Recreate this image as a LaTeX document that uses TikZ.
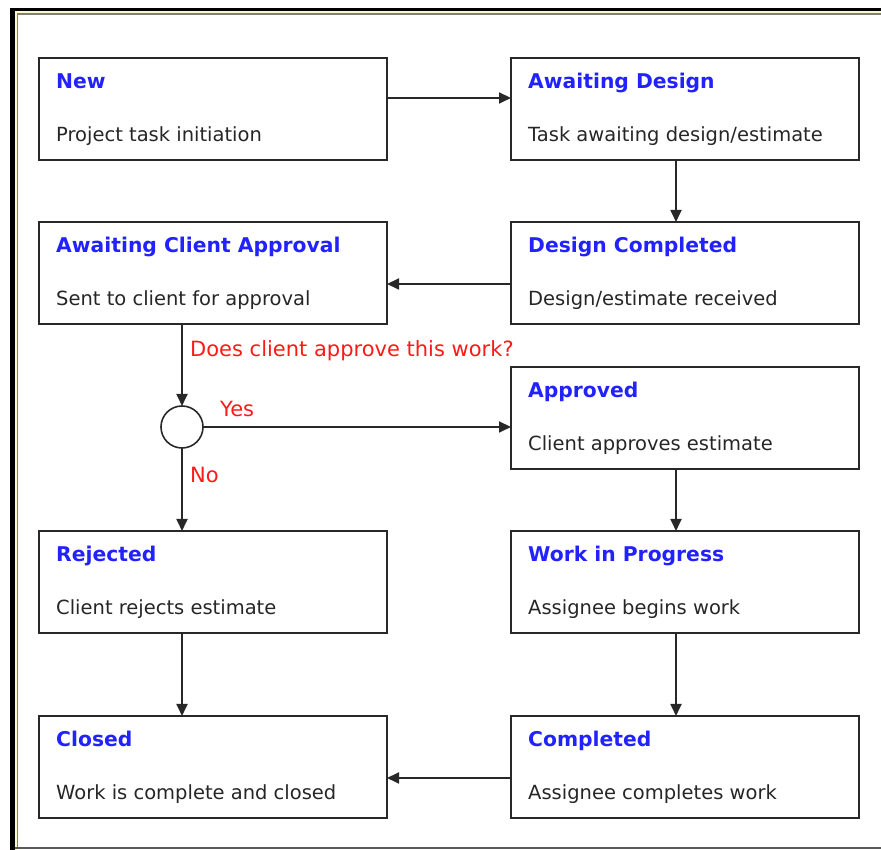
\documentclass[tikz,border=0pt]{standalone}
\usepackage{fontspec}
\setmainfont{DejaVu Sans}
\usetikzlibrary{arrows.meta}
\definecolor{ttlblue}{RGB}{34,34,255}
\definecolor{qred}{RGB}{255,25,25}
\definecolor{linegray}{RGB}{40,40,40}
\definecolor{frameyellow}{RGB}{255,248,200}
\newcommand{\stbox}[5]{%
  \node[box] (#1) at (#2,#3) {};
  \node[ttl] (#1t) at ([shift={(17,-31)}]#1.north west) {#4};
  \node[dsc] (#1d) at ([shift={(17,-84)}]#1.north west) {#5};
}
\begin{document}
\begin{tikzpicture}[x=1pt,y=1pt,
  box/.style={draw=linegray,line width=2pt,minimum width=348pt,minimum height=102pt,anchor=north west,inner sep=0pt,outer sep=0pt},
  ttl/.style={anchor=base west,inner sep=0pt,font=\fontsize{20.3}{23}\selectfont\bfseries,text=ttlblue},
  dsc/.style={anchor=base west,inner sep=0pt,font=\fontsize{19.5}{22}\selectfont,text=black!85},
  arr/.style={draw=linegray,line width=1.8pt,-{Triangle[length=12pt,width=11pt]}},
  lbl/.style={anchor=base west,inner sep=0pt,text=qred,font=\fontsize{21}{24}\selectfont},
  dec/.style={circle,draw=linegray,line width=1.6pt,minimum size=42pt,inner sep=0pt,outer sep=0pt}]
\useasboundingbox (0,0) rectangle (881,850);
% frame
\draw[black,line width=3.5pt] (10,840.3) -- (881,840.3);
\draw[frameyellow,line width=2pt] (15,838) -- (881,838);
\draw[gray,line width=1.8pt] (16,836.2) -- (881,836.2);
\draw[black,line width=5pt] (12.5,0) -- (12.5,842);
\draw[frameyellow,line width=1.5pt] (15.8,0) -- (15.8,839);
\draw[gray,line width=1.2pt] (17.2,2) -- (17.2,837);
\draw[gray!70!black,line width=2pt] (15,2) -- (881,2);
% boxes
\stbox{new}{39}{792}{New}{Project task initiation}
\stbox{awd}{511}{792}{Awaiting Design}{Task awaiting design/estimate}
\stbox{aca}{39}{628}{Awaiting Client Approval}{Sent to client for approval}
\stbox{dc}{511}{628}{Design Completed}{Design/estimate received}
\stbox{apr}{511}{483}{Approved}{Client approves estimate}
\stbox{rej}{39}{319}{Rejected}{Client rejects estimate}
\stbox{wip}{511}{319}{Work in Progress}{Assignee begins work}
\stbox{clo}{39}{134}{Closed}{Work is complete and closed}
\stbox{com}{511}{134}{Completed}{Assignee completes work}
\node[dec] (d) at (182,423) {};
% connectors
\draw[arr] ([yshift=-40]new.north east) -- ([yshift=-40]awd.north west);
\draw[arr] ([xshift=165]awd.south west) -- ([xshift=165]dc.north west);
\draw[arr] ([yshift=-62]dc.north west) -- ([yshift=-62]aca.north east);
\draw[arr] ([xshift=143]aca.south west) -- (d.north);
\draw[arr] (d.east) -- (d.east -| apr.west);
\draw[arr] (d.south) -- ([xshift=143]rej.north west);
\draw[arr] ([xshift=165]apr.south west) -- ([xshift=165]wip.north west);
\draw[arr] ([xshift=143]rej.south west) -- ([xshift=143]clo.north west);
\draw[arr] ([xshift=165]wip.south west) -- ([xshift=165]com.north west);
\draw[arr] ([yshift=-62]com.north west) -- ([yshift=-62]clo.north east);
% labels
\node[lbl] (q) at (190,493.3) {Does client approve this work?};
\node[lbl] (yes) at (220,433) {Yes};
\node[lbl] (no) at (190,367) {No};
\end{tikzpicture}
\end{document}
